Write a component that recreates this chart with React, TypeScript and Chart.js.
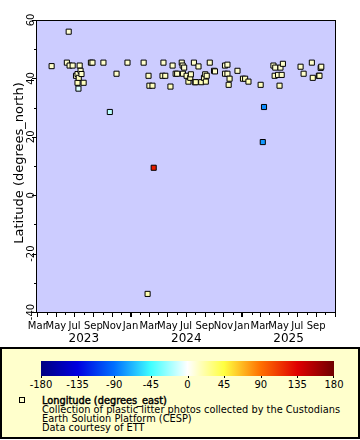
import React, { useEffect, useRef } from "react";
import { Chart, registerables } from "chart.js";
Chart.register(...registerables);

// ---- data ----
const dates = [
  "2023-04-17", "2023-06-06", "2023-06-12", "2023-06-15", "2023-06-25", "2023-07-06", "2023-07-11", "2023-07-11",
  "2023-07-14", "2023-07-15", "2023-07-18", "2023-07-21", "2023-07-24", "2023-07-31", "2023-08-24", "2023-08-29",
  "2023-10-04", "2023-10-25", "2023-11-16", "2023-12-22", "2024-02-13", "2024-02-26", "2024-02-29", "2024-03-03",
  "2024-03-13", "2024-03-17", "2024-04-15", "2024-04-18", "2024-04-24", "2024-05-11", "2024-05-18", "2024-05-28",
  "2024-06-02", "2024-06-17", "2024-06-20", "2024-06-21", "2024-06-25", "2024-07-03", "2024-07-09", "2024-07-15",
  "2024-07-17", "2024-07-27", "2024-07-30", "2024-08-02", "2024-08-11", "2024-08-20", "2024-08-29", "2024-09-02",
  "2024-09-04", "2024-09-07", "2024-09-17", "2024-10-01", "2024-10-04", "2024-11-06", "2024-11-06", "2024-11-14",
  "2024-11-14", "2024-11-18", "2024-11-21", "2024-12-17", "2025-01-04", "2025-01-11", "2025-01-22", "2025-03-03",
  "2025-03-10", "2025-03-14", "2025-04-14", "2025-04-18", "2025-04-20", "2025-04-29", "2025-05-04", "2025-05-07",
  "2025-05-11", "2025-05-15", "2025-07-12", "2025-07-22", "2025-08-18", "2025-08-21", "2025-09-10", "2025-09-12",
  "2025-09-16", "2025-09-18",
];
const latitudes = [
  44.2, 45.4, 56.0, 44.4, 44.4, 40.9, 41.5, 38.5,
  36.5, 40.2, 44.4, 42.6, 41.5, 38.5, 45.4, 45.4,
  45.4, 28.5, 41.6, 45.4, 45.4, -33.8, 40.9, 37.5,
  37.5, 9.4, 40.9, 45.4, 40.9, 37.2, 44.4, 41.6,
  41.6, 45.4, 44.4, 41.6, 43.7, 40.9, 38.9, 40.2,
  41.4, 45.4, 38.7, 38.7, 44.1, 38.7, 40.2, 41.4,
  38.9, 40.9, 45.4, 42.6, 42.4, 44.4, 41.6, 44.7,
  41.6, 37.8, 39.9, 42.6, 39.9, 39.9, 38.9, 37.8,
  18.2, 30.2, 44.4, 40.9, 43.7, 41.2, 37.5, 43.7,
  41.2, 45.0, 44.0, 41.6, 45.4, 40.2, 40.9, 40.9,
  43.6, 44.0,
];
const longitudes = [
  12.3, 12.3, 10.2, 11.9, 12.1, 14.2, 12.5, 15.6,
  -8.0, 15.0, 12.4, 11.1, 12.8, 15.6, 12.3, 12.3,
  12.3, -16.2, 12.5, 12.3, 12.3, 18.4, 14.2, 15.1,
  15.1, 124.0, 14.2, 12.3, 14.3, 15.2, 12.0, 12.5,
  12.6, 12.3, 11.9, 12.5, 10.4, 14.2, 16.5, 15.8,
  13.1, 12.3, 16.1, 16.0, 12.6, 15.9, 15.5, 13.0,
  16.4, 14.3, 12.3, 11.3, 11.6, 12.0, 12.5, 12.2,
  12.6, 15.3, 15.7, 11.2, 15.6, 15.8, 16.3, 15.2,
  -77.3, -81.4, 12.1, 14.2, 10.5, 13.4, 15.1, 10.6,
  13.5, 12.4, 12.6, 12.5, 12.3, 15.5, 14.2, 14.3,
  10.8, 12.6,
];

const xMinDate = "2023-02-28";
const xMaxDate = "2025-11-02";
const yMin = -40;
const yMax = 60;
const yLabelValues = [-40, -20, 0, 20, 40, 60];
const monthLabels = ["Jan", "Feb", "Mar", "Apr", "May", "Jun", "Jul", "Aug", "Sep", "Oct", "Nov", "Dec"];
const yearLabels = [2023, 2024, 2025];
const colorbarTicks = [-180, -135, -90, -45, 0, 45, 90, 135, 180];
const paletteValues = [-180, -135, -90, -45, 0, 45, 90, 135, 180];
const paletteColors = [
  [0, 0, 128], [0, 0, 224], [0, 112, 255], [64, 255, 255], [255, 255, 255],
  [255, 255, 64], [255, 112, 0], [224, 0, 0], [112, 0, 0],
];
const yTitle = "Latitude (degrees_north)";
const legendTitle = "Longitude (degrees_east)";
const legendLines = [
  "Collection of plastic litter photos collected by the Custodians",
  "Earth Solution Platform (CESP)",
  "Data courtesy of ETT",
];

const FONT = '"DejaVu Sans", sans-serif';

function toMs(s: string) {
  const [y, m, d] = s.split("-").map(Number);
  return Date.UTC(y, m - 1, d);
}

function colorFor(v: number) {
  const n = paletteValues.length;
  if (v <= paletteValues[0]) return `rgb(${paletteColors[0].join(",")})`;
  if (v >= paletteValues[n - 1]) return `rgb(${paletteColors[n - 1].join(",")})`;
  for (let i = 0; i < n - 1; i++) {
    const a = paletteValues[i], b = paletteValues[i + 1];
    if (v >= a && v <= b) {
      const t = (v - a) / (b - a);
      const c = paletteColors[i].map((c0, k) => Math.round(c0 + (paletteColors[i + 1][k] - c0) * t));
      return `rgb(${c.join(",")})`;
    }
  }
  return "#fff";
}

const decor = {
  id: "decor",
  beforeDatasetsDraw(chart: any) {
    const { ctx, chartArea: a } = chart;
    ctx.save();
    ctx.fillStyle = "#ccccff";
    ctx.fillRect(a.left, a.top, a.right - a.left, a.bottom - a.top);
    ctx.restore();
  },
  afterDraw(chart: any) {
    const { ctx, chartArea: a } = chart;
    const xs = chart.scales.x;
    const ys = chart.scales.y;
    ctx.save();
    // border
    ctx.strokeStyle = "#000";
    ctx.lineWidth = 1;
    ctx.strokeRect(Math.round(a.left) - 0.5, Math.round(a.top) + 0.5, Math.round(a.right - a.left) + 1, Math.round(a.bottom - a.top));
    ctx.fillStyle = "#000";
    // y ticks
    const left = Math.round(a.left) - 1;
    for (let v = yMin; v <= yMax; v += 10) {
      const py = Math.round(ys.getPixelForValue(v));
      const len = v % 20 === 0 ? 4 : 2;
      ctx.fillRect(left - len, py, len, 1);
    }
    // y labels
    ctx.font = `10px ${FONT}`;
    ctx.textAlign = "center";
    ctx.textBaseline = "alphabetic";
    for (const v of yLabelValues) {
      const py = ys.getPixelForValue(v);
      ctx.save();
      ctx.translate(33.6, py);
      ctx.rotate(-Math.PI / 2);
      ctx.fillText(String(v), 0, 0);
      ctx.restore();
    }
    // y title
    ctx.save();
    ctx.font = `13px ${FONT}`;
    ctx.translate(23, (a.top + a.bottom) / 2 - 3);
    ctx.rotate(-Math.PI / 2);
    ctx.fillText(yTitle, 0, 0);
    ctx.restore();
    // x ticks and month labels
    const bottom = Math.round(a.bottom) + 1;
    const y0 = Number(xMinDate.slice(0, 4));
    const y1 = Number(xMaxDate.slice(0, 4));
    ctx.font = `10px ${FONT}`;
    for (let yr = y0; yr <= y1; yr++) {
      for (let m = 0; m < 12; m++) {
        const t = Date.UTC(yr, m, 1);
        const px = xs.getPixelForValue(t);
        if (px < a.left - 0.5 || px > a.right + 0.5) continue;
        const col = Math.round(px);
        if (m === 0) {
          ctx.fillRect(col - 1, bottom, 2, 4);
        } else if (m % 2 === 0) {
          ctx.fillRect(col, bottom, 1, 4);
        } else {
          ctx.fillRect(col, bottom, 1, 2);
        }
        if (m % 2 === 0 && px < a.right - 8) ctx.fillText(monthLabels[m], px, 329);
      }
    }
    // year labels
    ctx.font = `12px ${FONT}`;
    for (const yr of yearLabels) {
      const s = Math.max(a.left, xs.getPixelForValue(Date.UTC(yr, 0, 1)));
      const e = Math.min(a.right, xs.getPixelForValue(Date.UTC(yr + 1, 0, 1)));
      ctx.fillText(String(yr), (s + e) / 2, 342);
    }
    ctx.restore();
  },
};

function ChartCanvas() {
  const ref = useRef<HTMLCanvasElement | null>(null);
  useEffect(() => {
    if (!ref.current) return;
    const chart = new Chart(ref.current, {
      type: "scatter",
      data: {
        datasets: [
          {
            data: dates.map((d, i) => ({ x: toMs(d), y: latitudes[i] })),
            pointStyle: "rect",
            pointRadius: 3.6,
            pointBackgroundColor: longitudes.map(colorFor),
            pointBorderColor: "#000",
            pointBorderWidth: 1,
          },
        ],
      },
      options: {
        responsive: false,
        animation: false,
        events: [],
        layout: { padding: { top: 20, right: 25, left: 0, bottom: 0 } },
        plugins: { legend: { display: false }, tooltip: { enabled: false } },
        scales: {
          x: {
            type: "linear",
            min: toMs(xMinDate),
            max: toMs(xMaxDate),
            grid: { display: false },
            border: { display: false },
            ticks: { display: false },
            afterFit: (s: any) => { s.height = 34; },
          },
          y: {
            type: "linear",
            min: yMin,
            max: yMax,
            grid: { display: false },
            border: { display: false },
            ticks: { display: false },
            afterFit: (s: any) => { s.width = 37; },
          },
        },
      },
      plugins: [decor],
    } as any);
    return () => chart.destroy();
  }, []);
  return (
    <canvas
      ref={ref}
      width={360}
      height={346}
      style={{ position: "absolute", left: 0, top: 0, width: 360, height: 346, display: "block" }}
    />
  );
}

export default function App() {
  const n = paletteValues.length;
  const gradient = `linear-gradient(to right, ${paletteColors
    .map((c, i) => `rgb(${c.join(",")}) ${((paletteValues[i] - paletteValues[0]) / (paletteValues[n - 1] - paletteValues[0])) * 100}%`)
    .join(", ")})`;
  const cbLeft = 41, cbTop = 361, cbWidth = 293, cbHeight = 15;
  return (
    <div style={{ position: "absolute", left: 0, top: 0, width: 360, height: 440, background: "#fff", overflow: "hidden", fontFamily: FONT }}>
      <ChartCanvas />
      <div style={{ position: "absolute", left: 0, top: 347, width: 360, height: 92, boxSizing: "border-box", border: "2px solid #000", background: "#ffffcc" }} />
      <div style={{ position: "absolute", left: cbLeft, top: cbTop, width: cbWidth, height: cbHeight, background: gradient }} />
      {colorbarTicks.map((v, i) => {
        const x = cbLeft + ((v - colorbarTicks[0]) / (colorbarTicks[colorbarTicks.length - 1] - colorbarTicks[0])) * cbWidth;
        return (
          <React.Fragment key={v}>
            <div style={{ position: "absolute", left: Math.round(x) - (i === colorbarTicks.length - 1 ? 1 : 0), top: cbTop + cbHeight, width: 1, height: 2, background: "#000" }} />
            <div style={{ position: "absolute", left: x, top: 379.5, transform: "translateX(-50%)", font: `10px ${FONT}`, lineHeight: "10px", whiteSpace: "nowrap", color: "#000" }}>{String(v)}</div>
          </React.Fragment>
        );
      })}
      <div style={{ position: "absolute", left: 19, top: 397, width: 6, height: 6, boxSizing: "border-box", border: "1px solid #000" }} />
      <div style={{ position: "absolute", left: 42, top: 395.5, font: `9.8px ${FONT}`, lineHeight: "9px", color: "#000", whiteSpace: "nowrap" }}>
        <div style={{ WebkitTextStroke: "0.45px #000" } as any}>{legendTitle}</div>
        {legendLines.map((l) => (
          <div key={l}>{l}</div>
        ))}
      </div>
    </div>
  );
}
